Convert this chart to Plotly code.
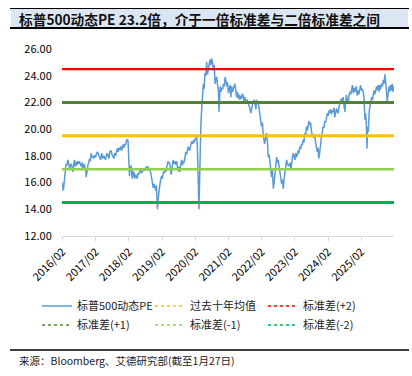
import plotly.graph_objects as go

# ---------------- data ----------------
dates = [
    # 2016
    "2016-01-27","2016-02-03","2016-02-11","2016-02-18","2016-02-24","2016-03-04","2016-03-12","2016-03-22",
    "2016-04-01","2016-04-11","2016-04-19","2016-04-28","2016-05-08","2016-05-17","2016-05-26","2016-06-03",
    "2016-06-13","2016-06-22","2016-07-01","2016-07-10","2016-07-19","2016-07-27","2016-08-05","2016-08-15",
    "2016-08-25","2016-09-05","2016-09-14","2016-09-24","2016-10-04","2016-10-12","2016-10-20","2016-10-28",
    "2016-11-07","2016-11-16","2016-11-25","2016-12-04","2016-12-13","2016-12-22",
    # 2017
    "2017-01-02","2017-01-11","2017-01-20","2017-01-30","2017-02-08","2017-02-17","2017-02-27","2017-03-07",
    "2017-03-16","2017-03-27","2017-04-08","2017-04-18","2017-04-28","2017-05-08","2017-05-18","2017-05-28",
    "2017-06-06","2017-06-16","2017-06-26","2017-07-05","2017-07-20","2017-07-30","2017-08-10","2017-08-20",
    "2017-08-28","2017-09-07","2017-09-17","2017-09-26","2017-10-06","2017-10-15","2017-10-24","2017-11-03",
    "2017-11-13","2017-11-20","2017-11-28","2017-12-08","2017-12-18","2017-12-27",
    # 2018
    "2018-01-05","2018-01-16","2018-01-23","2018-01-31","2018-02-08","2018-02-14","2018-02-21","2018-02-27",
    "2018-03-08","2018-03-14","2018-03-22","2018-03-29","2018-04-06","2018-04-15","2018-04-23","2018-05-03",
    "2018-05-12","2018-05-21","2018-05-30","2018-06-09","2018-06-18","2018-06-27","2018-07-05","2018-07-15",
    "2018-07-24","2018-08-02","2018-08-11","2018-08-21","2018-08-30","2018-09-10","2018-09-20","2018-09-30",
    "2018-10-08","2018-10-18","2018-10-27","2018-11-05","2018-11-15","2018-11-23","2018-12-01","2018-12-06",
    "2018-12-12","2018-12-18","2018-12-24",
    # 2019
    "2019-01-03","2019-01-14","2019-01-26","2019-02-05","2019-02-15","2019-02-24","2019-03-03","2019-03-13",
    "2019-03-24","2019-04-08","2019-04-18","2019-04-26","2019-05-04","2019-05-12","2019-05-22","2019-06-03",
    "2019-06-12","2019-06-22","2019-07-02","2019-07-12","2019-07-20","2019-07-27","2019-08-06","2019-08-15",
    "2019-08-25","2019-09-05","2019-09-14","2019-09-24","2019-10-02","2019-10-10","2019-10-20","2019-10-30",
    "2019-11-07","2019-11-14","2019-11-24","2019-12-03","2019-12-13","2019-12-25",
    # 2020
    "2020-01-06","2020-01-16","2020-01-24","2020-01-30","2020-02-08","2020-02-17","2020-02-24","2020-03-02",
    "2020-03-08","2020-03-13","2020-03-18","2020-03-25","2020-04-03","2020-04-11","2020-04-20","2020-04-30",
    "2020-05-09","2020-05-18","2020-05-27","2020-06-06","2020-06-15","2020-06-24","2020-07-03","2020-07-12",
    "2020-07-22","2020-07-31","2020-08-09","2020-08-19","2020-08-28","2020-09-06","2020-09-15","2020-09-25",
    "2020-10-04","2020-10-13","2020-10-20","2020-10-27","2020-11-01","2020-11-10","2020-11-20","2020-11-30",
    "2020-12-07","2020-12-16","2020-12-26",
    # 2021
    "2021-01-04","2021-01-12","2021-01-21","2021-01-31","2021-02-09","2021-02-18","2021-02-27","2021-03-08",
    "2021-03-18","2021-03-28","2021-04-06","2021-04-12","2021-04-21","2021-05-01","2021-05-10","2021-05-18",
    "2021-05-27","2021-06-06","2021-06-16","2021-06-25","2021-07-03","2021-07-12","2021-07-20","2021-07-29",
    "2021-08-08","2021-08-18","2021-08-27","2021-09-06","2021-09-15","2021-09-24","2021-10-04","2021-10-13",
    "2021-10-22","2021-10-30","2021-11-09","2021-11-19","2021-11-30","2021-12-06","2021-12-15","2021-12-25",
    # 2022
    "2022-01-03","2022-01-12","2022-01-22","2022-01-31","2022-02-09","2022-02-18","2022-03-05","2022-03-13",
    "2022-03-26","2022-04-06","2022-04-14","2022-04-24","2022-05-01","2022-05-11","2022-05-21","2022-05-30",
    "2022-06-09","2022-06-18","2022-06-29","2022-07-08","2022-07-16","2022-07-26","2022-08-03","2022-08-12",
    "2022-08-21","2022-09-01","2022-09-09","2022-09-18","2022-09-27","2022-10-06","2022-10-15","2022-10-25",
    "2022-11-03","2022-11-14","2022-11-23","2022-12-03","2022-12-12","2022-12-21","2022-12-30",
    # 2023
    "2023-01-08","2023-01-15","2023-01-25","2023-02-03","2023-02-12","2023-02-20","2023-03-01","2023-03-10",
    "2023-03-19","2023-03-28","2023-04-06","2023-04-15","2023-04-24","2023-05-03","2023-05-12","2023-05-21",
    "2023-05-31","2023-06-09","2023-06-19","2023-06-28","2023-07-07","2023-07-16","2023-07-25","2023-08-03",
    "2023-08-15","2023-08-28","2023-09-08","2023-09-17","2023-09-26","2023-10-06","2023-10-14","2023-10-21",
    "2023-10-30","2023-11-10","2023-11-20","2023-12-01","2023-12-08","2023-12-18","2023-12-28",
    # 2024
    "2024-01-06","2024-01-15","2024-01-25","2024-02-03","2024-02-12","2024-02-21","2024-03-01","2024-03-10",
    "2024-03-19","2024-03-28","2024-04-06","2024-04-16","2024-04-25","2024-05-04","2024-05-13","2024-05-22",
    "2024-06-01","2024-06-10","2024-06-19","2024-06-28","2024-07-07","2024-07-16","2024-07-25","2024-08-05",
    "2024-08-13","2024-08-22","2024-08-31","2024-09-09","2024-09-18","2024-09-28","2024-10-08","2024-10-18",
    "2024-10-27","2024-11-05","2024-11-13","2024-11-21","2024-12-01","2024-12-09","2024-12-18","2024-12-27",
    # 2025 - 2026
    "2025-01-06","2025-01-15","2025-01-24","2025-02-03","2025-02-15","2025-02-25","2025-03-04","2025-03-13",
    "2025-03-20","2025-03-27","2025-04-01","2025-04-05","2025-04-12","2025-04-20","2025-04-30","2025-05-09",
    "2025-05-18","2025-05-26","2025-06-04","2025-06-13","2025-06-21","2025-06-30","2025-07-10","2025-07-20",
    "2025-07-30","2025-08-08","2025-08-17","2025-08-25","2025-09-04","2025-09-13","2025-09-22","2025-10-01",
    "2025-10-10","2025-10-19","2025-10-26","2025-11-03","2025-11-07","2025-11-14","2025-11-22","2025-11-28",
    "2025-12-05","2025-12-12","2025-12-20","2026-01-01","2026-01-08","2026-01-15","2026-01-20","2026-01-27",
]

pe_values = [
    # 2016
    16.0, 15.8, 15.4, 15.9, 16.2, 16.9, 17.4, 17.3,
    17.7, 17.4, 17.0, 17.3, 17.4, 17.1, 16.8, 17.3,
    17.7, 17.2, 17.55, 17.3, 17.6, 17.4, 17.6, 17.4,
    17.2, 17.5, 17.0, 17.4, 17.2, 17.0, 16.4, 17.0,
    17.3, 17.5, 17.8, 17.6, 18.2, 17.9,
    # 2017
    18.0, 17.8, 18.05, 17.9, 18.1, 18.3, 18.2, 18.1,
    17.9, 17.7, 18.2, 17.8, 18.0, 17.9, 17.7, 18.0,
    18.2, 18.0, 17.8, 18.3, 18.4, 18.1, 17.9, 17.8,
    18.2, 18.0, 18.3, 18.55, 18.3, 18.6, 18.45, 18.7,
    18.4, 18.6, 18.85, 18.6, 18.9, 18.8,
    # 2018
    19.15, 19.25, 19.1, 17.7, 16.5, 17.2, 16.9, 17.3,
    16.3, 16.9, 16.4, 16.8, 16.3, 16.6, 16.45, 16.3,
    16.7, 16.6, 16.8, 17.0, 16.7, 16.9, 16.9, 17.1,
    16.9, 17.0, 17.2, 16.9, 17.2, 16.9, 17.0, 16.7,
    16.3, 16.0, 15.6, 15.9, 15.7, 15.4, 15.8, 15.1,
    14.0, 14.6, 15.2,
    # 2019
    15.6, 16.1, 16.5, 16.3, 16.8, 16.7, 17.0, 16.8,
    17.2, 17.6, 17.4, 17.5, 17.0, 16.6, 17.1, 17.7,
    17.4, 17.6, 17.35, 17.6, 17.2, 16.85, 17.2, 16.8,
    17.3, 17.7, 17.3, 17.6, 17.5, 18.0, 18.3, 18.1,
    18.5, 18.7, 18.5, 18.4, 18.8, 19.1,
    # 2020
    18.9, 19.2, 19.0, 19.3, 19.2, 19.45, 18.8, 17.5,
    16.2, 14.0, 15.5, 19.4, 20.3, 21.4, 22.5, 23.4,
    23.0, 24.2, 24.0, 25.05, 24.1, 24.4, 24.7, 25.2,
    24.8, 25.3, 25.0, 24.4, 24.8, 23.4, 23.7, 23.9,
    23.3, 22.9, 21.3, 22.3, 23.2, 22.8, 23.1, 23.0,
    23.4, 23.2, 23.9,
    # 2021
    23.6, 23.2, 23.5, 22.7, 23.0, 23.3, 22.4, 23.2,
    22.8, 23.0, 23.2, 23.4, 23.0, 22.4, 22.8, 22.3,
    22.6, 22.2, 22.5, 22.3, 22.6, 22.55, 22.1, 22.4,
    22.2, 21.9, 22.2, 22.0, 21.7, 21.55, 21.2, 21.6,
    21.9, 22.05, 22.2, 22.0, 21.5, 22.2, 21.9, 22.0,
    # 2022
    21.6, 20.9, 20.6, 20.2, 20.5, 19.6, 18.9, 19.2,
    19.7, 19.0, 17.9, 18.1, 17.7, 16.9, 16.4, 17.0,
    15.55, 16.0, 16.7, 17.3, 17.9, 17.5, 17.7, 17.2,
    16.7, 16.1, 15.9, 16.2, 15.55, 16.3, 16.9, 17.4,
    17.7, 17.3, 17.4, 17.2, 17.5, 17.0, 17.9,
    # 2023
    18.0, 18.2, 17.9, 17.7, 18.2, 17.9, 18.1, 18.4,
    18.2, 18.7, 18.5, 18.9, 18.8, 19.2, 19.0, 19.7,
    19.5, 20.2, 19.9, 20.3, 20.6, 20.3, 20.5, 19.8,
    19.5, 19.4, 19.6, 19.0, 18.7, 18.3, 18.6, 17.8,
    18.1, 19.2, 19.4, 19.8, 20.2, 20.1, 20.6,
    # 2024
    20.5, 20.9, 21.2, 21.0, 21.4, 21.2, 21.5, 21.1,
    21.4, 21.3, 21.6, 20.9, 21.3, 21.55, 21.3, 21.2,
    21.7, 21.9, 22.1, 22.3, 22.1, 22.4, 21.8, 21.3,
    22.0, 22.55, 22.2, 21.9, 22.4, 22.8, 22.6, 23.0,
    23.3, 22.7, 23.1, 22.8, 23.0, 23.2, 22.5, 22.9,
    # 2025 - 2026
    22.6, 22.9, 23.3, 22.9, 23.0, 22.7, 22.2, 20.7,
    21.2, 20.6, 19.8, 18.55, 20.2, 19.8, 21.4, 21.8,
    22.2, 22.4, 22.2, 22.6, 22.9, 22.6, 23.0, 23.2,
    22.9, 23.3, 22.8, 23.3, 23.0, 23.4, 23.2, 23.7,
    23.4, 24.1, 23.6, 23.0, 22.9, 22.05, 22.6, 23.0,
    23.2, 22.8, 23.3, 22.9, 23.4, 22.8, 23.1, 23.2,
]

band_names = ["过去十年均值", "标准差(+2)", "标准差(+1)", "标准差(-1)", "标准差(-2)"]
band_values = [19.5, 24.5, 22.0, 17.0, 14.5]
band_colors = ["#FFC000", "#FF0000", "#548235", "#92D050", "#00B050"]
band_widths = [3, 2.2, 3, 2.5, 3]

x_start, x_end = "2016-01-27", "2026-01-27"
tick_dates = ["%d-02-01" % y for y in range(2016, 2026)]
tick_labels = ["%d/02" % y for y in range(2016, 2026)]
y_ticks = [12, 14, 16, 18, 20, 22, 24, 26]

title_text = "标普500动态PE 23.2倍，介于一倍标准差与二倍标准差之间"
source_text = "来源：Bloomberg、艾德研究部(截至1月27日)"

# ---------------- layout geometry ----------------
W, H = 412, 376
L, R, T, B = 62, 18, 49, 140
PW, PH = W - L - R, H - T - B
FONT = "Noto Sans CJK SC, Noto Sans, sans-serif"


def px(x):
    return (x - L) / PW


def py(y):
    return (T + PH - y) / PH


fig = go.Figure()

fig.add_trace(go.Scatter(
    x=dates, y=pe_values, mode="lines", name="标普500动态PE",
    line=dict(color="#5B9BD5", width=1.5), showlegend=True,
))

for n, v, c, w in zip(band_names, band_values, band_colors, band_widths):
    fig.add_trace(go.Scatter(
        x=[x_start, x_end], y=[v, v], mode="lines", name=n,
        line=dict(color=c, width=w), showlegend=False, hoverinfo="skip",
    ))
for n, c in zip(band_names, band_colors):
    fig.add_trace(go.Scatter(
        x=[None], y=[None], mode="lines", name=n,
        line=dict(color=c, width=1.3, dash="dot"), showlegend=True,
    ))

shapes = [
    dict(type="rect", xref="paper", yref="paper", x0=px(11), x1=px(408), y0=py(9), y1=py(27.5),
         fillcolor="#DCE6F2", line=dict(width=0), layer="below"),
    dict(type="line", xref="paper", yref="paper", x0=px(10), x1=px(409), y0=py(8.5), y1=py(8.5),
         line=dict(color="#000000", width=1)),
    dict(type="line", xref="paper", yref="paper", x0=px(10), x1=px(409), y0=py(28), y1=py(28),
         line=dict(color="#000000", width=1.8)),
    dict(type="line", xref="paper", yref="paper", x0=px(10), x1=px(409), y0=py(350), y1=py(350),
         line=dict(color="#000000", width=1.3)),
]

annotations = [
    dict(text="<b>" + title_text + "</b>", xref="paper", yref="paper", x=px(17), y=py(18.5),
         xanchor="left", yanchor="middle", showarrow=False,
         font=dict(family=FONT, size=13.7, color="#111111")),
    dict(text=source_text, xref="paper", yref="paper", x=px(17), y=py(360.5),
         xanchor="left", yanchor="middle", showarrow=False,
         font=dict(family=FONT, size=10.5, color="#222222")),
]

fig.update_layout(
    width=W, height=H,
    margin=dict(l=L, r=R, t=T, b=B, pad=0),
    paper_bgcolor="#FFFFFF", plot_bgcolor="#FFFFFF",
    font=dict(family=FONT, size=11, color="#000000"),
    shapes=shapes, annotations=annotations,
    showlegend=True,
    legend=dict(
        orientation="h", x=px(37), y=py(291.5), xanchor="left", yanchor="top",
        entrywidth=68, entrywidthmode="pixels", tracegroupgap=0,
        font=dict(family=FONT, size=11, color="#222222"),
        bgcolor="rgba(0,0,0,0)", itemwidth=30,
    ),
    xaxis=dict(
        type="date", range=[x_start, x_end],
        tickvals=tick_dates, ticktext=tick_labels, tickangle=-45,
        ticks="outside", ticklen=4, tickcolor="#D9D9D9", tickwidth=1,
        showline=True, linecolor="#D9D9D9", linewidth=1.2,
        showgrid=False, zeroline=False,
        tickfont=dict(family=FONT, size=11, color="#000000"),
    ),
    yaxis=dict(
        range=[12, 26], tickvals=y_ticks, tickformat=".2f",
        showgrid=False, zeroline=False, showline=False,
        ticks="outside", ticklen=7, tickcolor="rgba(0,0,0,0)",
        tickfont=dict(family=FONT, size=11, color="#000000"),
    ),
)

fig.write_html("out.html", config={"displayModeBar": False},
               post_script="document.body.style.margin='0';")
